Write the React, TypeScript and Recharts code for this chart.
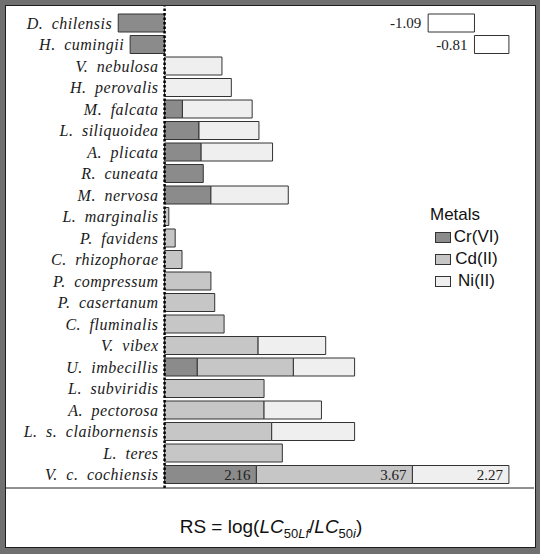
import { Bar, BarChart, LabelList, Legend, ReferenceLine, XAxis, YAxis } from 'recharts'

// species, top to bottom
const species = [
  'D. chilensis',
  'H. cumingii',
  'V. nebulosa',
  'H. perovalis',
  'M. falcata',
  'L. siliquoidea',
  'A. plicata',
  'R. cuneata',
  'M. nervosa',
  'L. marginalis',
  'P. favidens',
  'C. rhizophorae',
  'P. compressum',
  'P. casertanum',
  'C. fluminalis',
  'V. vibex',
  'U. imbecillis',
  'L. subviridis',
  'A. pectorosa',
  'L. s. claibornensis',
  'L. teres',
  'V. c. cochiensis',
]

const crVI = [-1.09, -0.81, 0, 0, 0.42, 0.81, 0.86, 0.91, 1.09, 0, 0, 0, 0, 0, 0, 0, 0.77, 0, 0, 0, 0, 2.16]
const cdII = [0, 0, 0, 0, 0, 0, 0, 0, 0, 0.1, 0.25, 0.41, 1.09, 1.18, 1.4, 2.2, 2.26, 2.34, 2.34, 2.52, 2.77, 3.67]
const niII = [0, 0, 1.35, 1.57, 1.64, 1.41, 1.68, 0, 1.82, 0, 0, 0, 0, 0, 0, 1.59, 1.44, 0, 1.35, 1.95, 0, 2.27]

// white reference boxes drawn at the top right (first two rows)
const noteBoxes: [number, number][] = [
  [6.2, 7.29],
  [7.29, 8.1],
]
const noteLabels = ['-1.09', '-0.81']

// rows whose segments carry their value as text
const labelledSpecies = ['V. c. cochiensis']

const COLORS = { cr: '#8b8b8b', cd: '#c6c6c6', ni: '#efefef' }
const SERIF = "'Liberation Serif', 'Times New Roman', serif"
const SANS = "'Liberation Sans', Arial, sans-serif"

const data = species.map((s, i) => {
  const lab = labelledSpecies.includes(s)
  return {
    species: s,
    cr: crVI[i],
    cd: cdII[i],
    ni: niII[i],
    note: noteBoxes[i] ?? null,
    noteLabel: noteLabels[i] ?? null,
    crText: lab ? crVI[i].toFixed(2) : null,
    cdText: lab ? cdII[i].toFixed(2) : null,
    niText: lab ? niII[i].toFixed(2) : null,
  }
})

function SpeciesLabel(props: any) {
  const { x, y, width, height, value } = props
  const left = Math.min(Number(x), Number(x) + Number(width))
  return (
    <text
      x={left - 6}
      y={Number(y) + Number(height) / 2}
      textAnchor="end"
      dominantBaseline="central"
      fontFamily={SERIF}
      fontStyle="italic"
      fontSize={16}
      letterSpacing={0.5}
      wordSpacing={4}
      fill="#1a1a1a"
    >
      {value}
    </text>
  )
}

function InsideRightLabel(props: any) {
  const { x, y, width, height, value } = props
  if (value == null) return null
  const right = Math.max(Number(x), Number(x) + Number(width))
  return (
    <text
      x={right - 6}
      y={Number(y) + Number(height) / 2}
      textAnchor="end"
      dominantBaseline="central"
      fontFamily={SERIF}
      fontSize={15}
      fill="#222"
    >
      {value}
    </text>
  )
}

function NoteLabel(props: any) {
  const { x, y, width, height, value } = props
  if (value == null) return null
  const left = Math.min(Number(x), Number(x) + Number(width))
  return (
    <text
      x={left - 7}
      y={Number(y) + Number(height) / 2}
      textAnchor="end"
      dominantBaseline="central"
      fontFamily={SERIF}
      fontSize={15}
      fill="#222"
    >
      {value}
    </text>
  )
}

function AxisTitle(props: any) {
  const vb = props.viewBox
  if (!vb) return null
  const cx = vb.x + vb.width / 2
  return (
    <text x={cx + 1} y={vb.y + 45} textAnchor="middle" fontFamily={SANS} fontSize={19} fill="#111">
      RS = log(
      <tspan fontStyle="italic">LC</tspan>
      <tspan fontSize={13} dy={5}>50</tspan>
      <tspan fontSize={13} fontStyle="italic">Lf</tspan>
      <tspan dy={-5}>/</tspan>
      <tspan fontStyle="italic">LC</tspan>
      <tspan fontSize={13} dy={5}>50</tspan>
      <tspan fontSize={13} fontStyle="italic">i</tspan>
      <tspan dy={-5}>)</tspan>
    </text>
  )
}

const legendItems = [
  { key: 'cr', name: 'Cr(VI)' },
  { key: 'cd', name: 'Cd(II)' },
  { key: 'ni', name: 'Ni(II)' },
]

function MetalsLegend() {
  return (
    <div style={{ fontFamily: SANS, fontSize: 17, color: '#111' }}>
      <div style={{ height: 22, lineHeight: '22px', paddingLeft: 2 }}>Metals</div>
      {legendItems.map((it) => (
        <div key={it.key} style={{ display: 'flex', alignItems: 'center', height: 22 }}>
          <span
            style={{
              display: 'inline-block',
              marginLeft: 7,
              width: 16,
              height: 11,
              boxSizing: 'border-box',
              border: '1px solid #333',
              background: COLORS[it.key as keyof typeof COLORS],
            }}
          />
          <span style={{ display: 'inline-block', width: 51, textAlign: 'center' }}>{it.name}</span>
        </div>
      ))}
    </div>
  )
}

export default function App() {
  return (
    <div style={{ position: 'absolute', left: 0, top: 0, width: 540, height: 554, background: '#707070' }}>
      <div
        style={{
          position: 'absolute',
          left: 5,
          top: 5,
          width: 531,
          height: 543,
          boxSizing: 'border-box',
          background: '#fff',
          border: '1px solid #1e1e1e',
        }}
      />
      <div style={{ position: 'absolute', left: 0, top: 0 }}>
        <BarChart
          width={540}
          height={554}
          data={data}
          layout="vertical"
          stackOffset="sign"
          barCategoryGap={2}
          margin={{ top: 6, right: 6, bottom: 0, left: 6 }}
        >
          <XAxis
            type="number"
            domain={[-3.73, 8.69]}
            allowDataOverflow
            height={66}
            tick={false}
            tickLine={false}
            axisLine={{ stroke: '#222', strokeWidth: 1 }}
            label={<AxisTitle />}
          />
          <YAxis type="category" dataKey="species" hide padding={{ top: 6, bottom: 3 }} />
          <YAxis yAxisId="notes" type="category" dataKey="species" hide padding={{ top: 6, bottom: 3 }} />
          <YAxis yAxisId="labels" type="category" dataKey="species" hide padding={{ top: 6, bottom: 3 }} />
          <Legend
            layout="vertical"
            align="center"
            verticalAlign="middle"
            wrapperStyle={{ left: 428, top: 204, width: 100 }}
            content={<MetalsLegend />}
          />
          <Bar dataKey="cr" name="Cr(VI)" stackId="m" fill={COLORS.cr} stroke="#333" strokeWidth={1} isAnimationActive={false}>
            <LabelList dataKey="crText" content={<InsideRightLabel />} />
          </Bar>
          <Bar dataKey="cd" name="Cd(II)" stackId="m" fill={COLORS.cd} stroke="#333" strokeWidth={1} isAnimationActive={false}>
            <LabelList dataKey="cdText" content={<InsideRightLabel />} />
          </Bar>
          <Bar dataKey="ni" name="Ni(II)" stackId="m" fill={COLORS.ni} stroke="#333" strokeWidth={1} isAnimationActive={false}>
            <LabelList dataKey="niText" content={<InsideRightLabel />} />
          </Bar>
          <Bar
            dataKey="note"
            yAxisId="notes"
            fill="#fff"
            stroke="#333"
            strokeWidth={1}
            legendType="none"
            isAnimationActive={false}
          >
            <LabelList dataKey="noteLabel" content={<NoteLabel />} />
          </Bar>
          {/* invisible anchor series: species names sit just left of where each row's bars begin */}
          <Bar
            dataKey="cr"
            yAxisId="labels"
            fill="transparent"
            stroke="none"
            minPointSize={1}
            legendType="none"
            isAnimationActive={false}
          >
            <LabelList dataKey="species" content={<SpeciesLabel />} />
          </Bar>
          <ReferenceLine x={0} stroke="#000" strokeWidth={2.5} strokeDasharray="2.5 2" />
        </BarChart>
      </div>
    </div>
  )
}
